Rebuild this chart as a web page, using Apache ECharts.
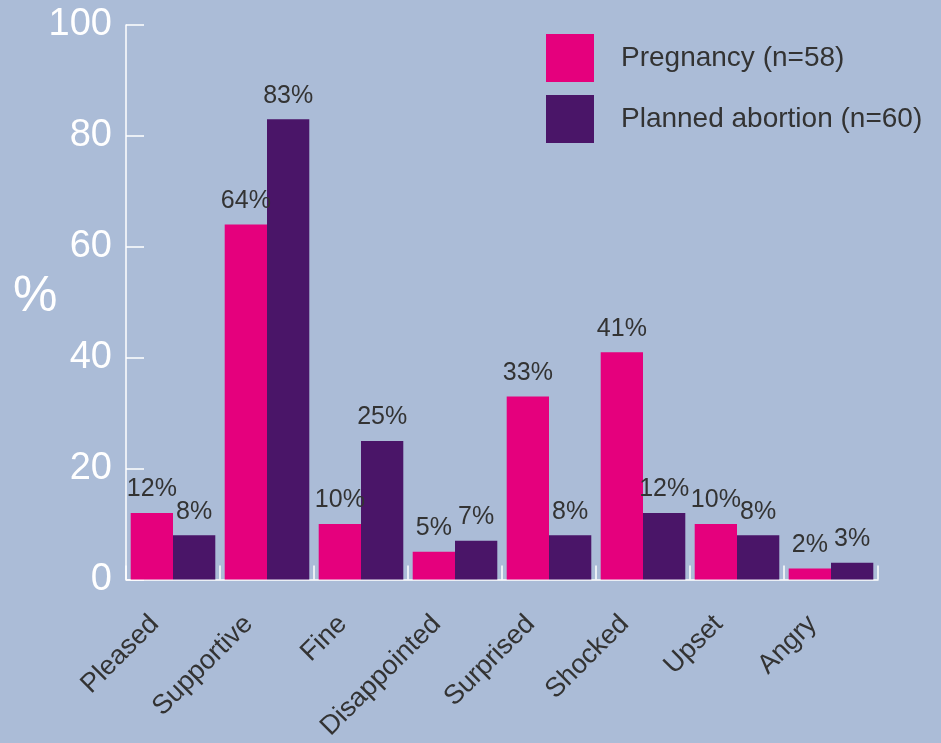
<!DOCTYPE html>
<html>
<head>
<meta charset="utf-8">
<script src="https://cdn.jsdelivr.net/npm/echarts@6/dist/echarts.min.js"></script>
<style>
  html, body { margin: 0; padding: 0; background: #abbcd7; }
  #chart { width: 941px; height: 743px; }
</style>
</head>
<body>
<div id="chart"></div>
<script>
// feelings reported, % of respondents
const categories = ['Pleased', 'Supportive', 'Fine', 'Disappointed', 'Surprised', 'Shocked', 'Upset', 'Angry'];
const seriesNames = ['Pregnancy (n=58)', 'Planned abortion (n=60)'];
const pregnancy = [12, 64, 10, 5, 33, 41, 10, 2];
const plannedAbortion = [8, 83, 25, 7, 8, 12, 8, 3];
const yTicks = [0, 20, 40, 60, 80, 100];

const font = '"Liberation Sans", Arial, sans-serif';
const pink = '#e5007d';
const purple = '#4a1568';

const chart = echarts.init(document.getElementById('chart'));

const barLabel = {
  show: true,
  position: 'top',
  distance: 11,
  color: '#333',
  fontFamily: font,
  fontSize: 25,
  formatter: (p) => p.value + '%'
};

const option = {
  backgroundColor: '#abbcd7',
  animation: false,
  textStyle: { fontFamily: font },
  title: {
    text: '%',
    left: 13,
    top: 272,
    padding: 0,
    textStyle: { color: '#fff', fontSize: 50, fontWeight: 'normal', fontFamily: font }
  },
  legend: {
    data: seriesNames,
    orient: 'vertical',
    left: 546,
    top: 34,
    padding: 0,
    itemWidth: 48,
    itemHeight: 48,
    itemGap: 13,
    icon: 'rect',
    textStyle: { color: '#333', fontSize: 28, fontFamily: font, padding: [8, 0, 0, 22] }
  },
  grid: {
    left: 126,
    right: 63,
    top: 25,
    bottom: 163,
    containLabel: false
  },
  xAxis: {
    type: 'category',
    data: categories,
    axisLine: { lineStyle: { color: '#fff', width: 1.5 } },
    axisTick: { show: true, inside: true, length: 14, lineStyle: { color: '#fff', width: 1.5 } },
    axisLabel: {
      rotate: 45,
      margin: 22,
      padding: [0, 26, 0, 0],
      color: '#333',
      fontSize: 27,
      fontFamily: font
    }
  },
  yAxis: {
    type: 'value',
    min: yTicks[0],
    max: yTicks[yTicks.length - 1],
    interval: yTicks[1] - yTicks[0],
    splitLine: { show: false },
    axisLine: { show: true, lineStyle: { color: '#fff', width: 1.5 } },
    axisTick: { show: true, inside: true, length: 18, lineStyle: { color: '#fff', width: 1.5 } },
    axisLabel: {
      margin: 14,
      color: '#fff',
      fontSize: 38,
      fontFamily: font
    }
  },
  series: [
    {
      name: seriesNames[0],
      type: 'bar',
      data: pregnancy,
      barGap: '0%',
      barCategoryGap: '10%',
      itemStyle: { color: pink },
      label: barLabel
    },
    {
      name: seriesNames[1],
      type: 'bar',
      data: plannedAbortion,
      barGap: '0%',
      barCategoryGap: '10%',
      itemStyle: { color: purple },
      label: barLabel
    }
  ]
};

chart.setOption(option);
</script>
</body>
</html>
